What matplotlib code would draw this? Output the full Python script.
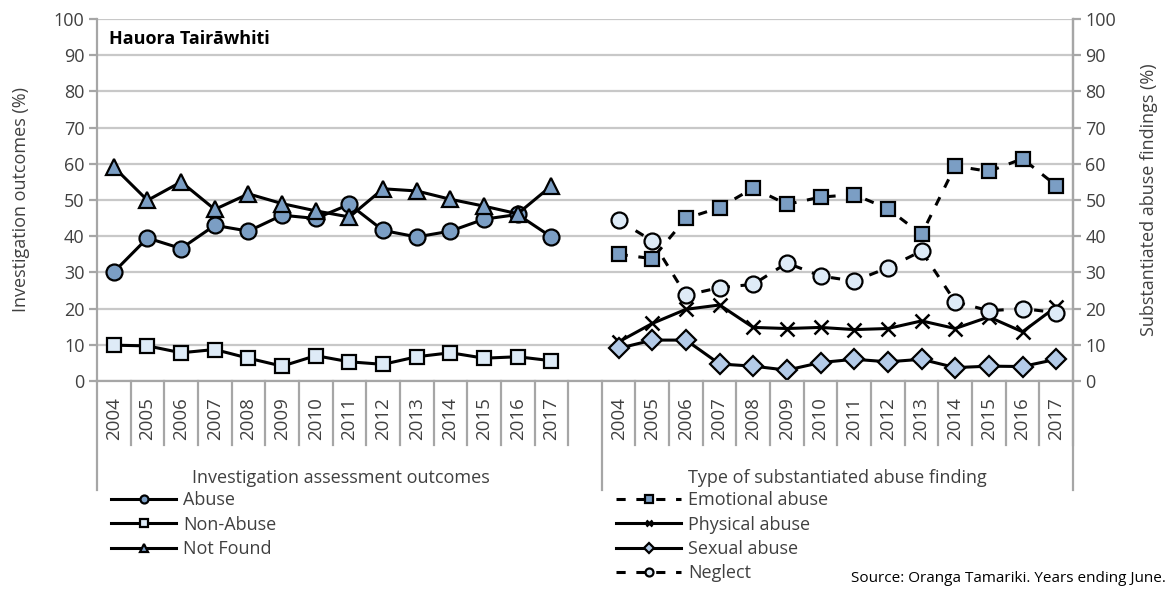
import matplotlib
matplotlib.use("Agg")
import matplotlib.pyplot as plt
from matplotlib.lines import Line2D

plt.rcParams['font.family'] = ['Open Sans', 'DejaVu Sans']

years = ['2004', '2005', '2006', '2007', '2008', '2009', '2010',
         '2011', '2012', '2013', '2014', '2015', '2016', '2017']

# investigation assessment outcomes (%)
abuse = [30.1, 39.5, 36.6, 43.0, 41.4, 45.8, 44.9, 48.8, 41.6, 39.8, 41.4, 44.7, 46.0, 39.8]
non_abuse = [9.9, 9.7, 7.8, 8.7, 6.3, 4.1, 7.0, 5.3, 4.6, 6.7, 7.8, 6.3, 6.7, 5.6]
not_found = [59.1, 49.9, 55.0, 47.4, 51.7, 49.0, 47.0, 45.3, 53.1, 52.5, 50.2, 48.3, 46.2, 53.9]

# type of substantiated abuse finding (%)
emotional = [35.0, 33.8, 44.9, 47.9, 53.3, 48.8, 50.8, 51.5, 47.6, 40.5, 59.4, 57.9, 61.4, 54.0]
physical = [10.8, 15.9, 19.8, 21.0, 14.8, 14.5, 14.8, 14.2, 14.5, 16.6, 14.5, 17.7, 13.6, 20.5]
sexual = [9.0, 11.3, 11.3, 4.7, 4.1, 3.0, 5.1, 6.0, 5.3, 6.0, 3.7, 4.1, 4.0, 6.0]
neglect = [44.4, 38.7, 23.7, 25.8, 26.7, 32.6, 29.0, 27.6, 31.3, 35.9, 21.9, 19.4, 20.0, 18.9]

group_labels = ['Investigation assessment outcomes', 'Type of substantiated abuse finding']

dark = '#7b9ec4'
light = '#deebf7'
mid = '#b4cbe8'
grey = '#a6a6a6'
txt = '#404040'
FS = 13

n = len(years)
xl = list(range(n))
xr = [i + n + 1 for i in range(n)]

fig = plt.figure(figsize=(11.68, 5.92), dpi=100)
ax = fig.add_axes([97 / 1168, 1 - 381 / 592, 976 / 1168, 362 / 592])

lw = 2.2
common = dict(color='black', lw=lw, markeredgecolor='black', markeredgewidth=1.6)
l1, = ax.plot(xl, abuse, marker='o', ms=11.5, markerfacecolor=dark, label='Abuse', **common)
l2, = ax.plot(xl, non_abuse, marker='s', ms=10.5, markerfacecolor=light, label='Non-Abuse', **common)
l3, = ax.plot(xl, not_found, marker='^', ms=11.5, markerfacecolor=dark, label='Not Found', **common)

r1, = ax.plot(xr, emotional, marker='s', ms=10.5, markerfacecolor=dark, ls=(0, (3, 3.5)),
              label='Emotional abuse', **common)
r2, = ax.plot(xr, physical, marker='x', ms=10, markeredgecolor='black', color='black', lw=lw,
              markeredgewidth=1.8, label='Physical abuse')
r3, = ax.plot(xr, sexual, marker='D', ms=10, markerfacecolor=mid, label='Sexual abuse', **common)
r4, = ax.plot(xr, neglect, marker='o', ms=11.5, markerfacecolor=light, ls=(0, (3, 3.5)),
              label='Neglect', **common)

ax.set_xlim(-0.5, 2 * n + 0.5)
ax.set_ylim(0, 100)
ax.set_yticks(range(0, 101, 10))
ax.grid(axis='y', color='#c8c8c8', lw=1.6)
ax.set_axisbelow(True)
ax.set_xticks([])
ax.spines['top'].set_visible(False)
for s in ['left', 'right', 'bottom']:
    ax.spines[s].set_color(grey)
    ax.spines[s].set_linewidth(1.6)
ax.tick_params(axis='y', direction='out', length=6, width=1.6, color=grey,
               labelsize=FS, labelcolor=txt, pad=3)
ax.set_ylabel('Investigation outcomes (%)', fontsize=FS, color=txt, labelpad=17)

ax2 = ax.twinx()
ax2.set_ylim(0, 100)
ax2.set_yticks(range(0, 101, 10))
for s in ['top', 'left', 'bottom']:
    ax2.spines[s].set_visible(False)
ax2.spines['right'].set_color(grey)
ax2.spines['right'].set_linewidth(1.6)
ax2.tick_params(axis='y', direction='out', length=6, width=1.6, color=grey,
                labelsize=FS, labelcolor=txt, pad=3)
ax2.set_ylabel('Substantiated abuse findings (%)', fontsize=FS, color=txt, labelpad=17)

# category axis: year labels, separators and group labels
trans = ax.get_xaxis_transform()
short_y = -(445 - 381) / 362
long_y = -(490 - 381) / 362
for xs in (xl, xr):
    for x, yr in zip(xs, years):
        ax.text(x, -16 / 362, yr, rotation=90, ha='center', va='top', fontsize=FS + 0.5,
                color=txt, transform=trans)
        ax.add_line(Line2D([x + 0.5, x + 0.5], [0, short_y], transform=trans,
                           color=grey, lw=1.6, clip_on=False))
for x in (-0.5, n + 0.5, 2 * n + 0.5):
    ax.add_line(Line2D([x, x], [0, long_y], transform=trans, color=grey, lw=1.6, clip_on=False))
ax.text((n - 0.5) / 2, -(478 - 381) / 362, group_labels[0], ha='center', va='center',
        fontsize=FS, color=txt, transform=trans)
ax.text(n + 1 + (n - 1) / 2, -(478 - 381) / 362, group_labels[1], ha='center', va='center',
        fontsize=FS, color=txt, transform=trans)

ax.text(0.012, 0.945, 'Hauora Tairāwhiti', transform=ax.transAxes, fontsize=FS,
        fontweight='bold', ha='left', va='center')

leg_kw = dict(frameon=False, fontsize=FS, handlelength=3.6, labelspacing=0.36,
              handletextpad=0.4, borderpad=0, borderaxespad=0, labelcolor=txt,
              markerscale=0.5)
leg1 = fig.legend(handles=[l1, l2, l3], loc='upper left',
                  bbox_to_anchor=(111 / 1168, 1 - 491 / 592), **leg_kw)
leg2 = fig.legend(handles=[r1, r2, r3, r4], loc='upper left',
                  bbox_to_anchor=(616 / 1168, 1 - 491 / 592), **leg_kw)

fig.text(1166 / 1168, 1 - 578 / 592, 'Source: Oranga Tamariki. Years ending June.',
         ha='right', va='center', fontsize=11, color='black')

fig.savefig('out.png', dpi=100)
